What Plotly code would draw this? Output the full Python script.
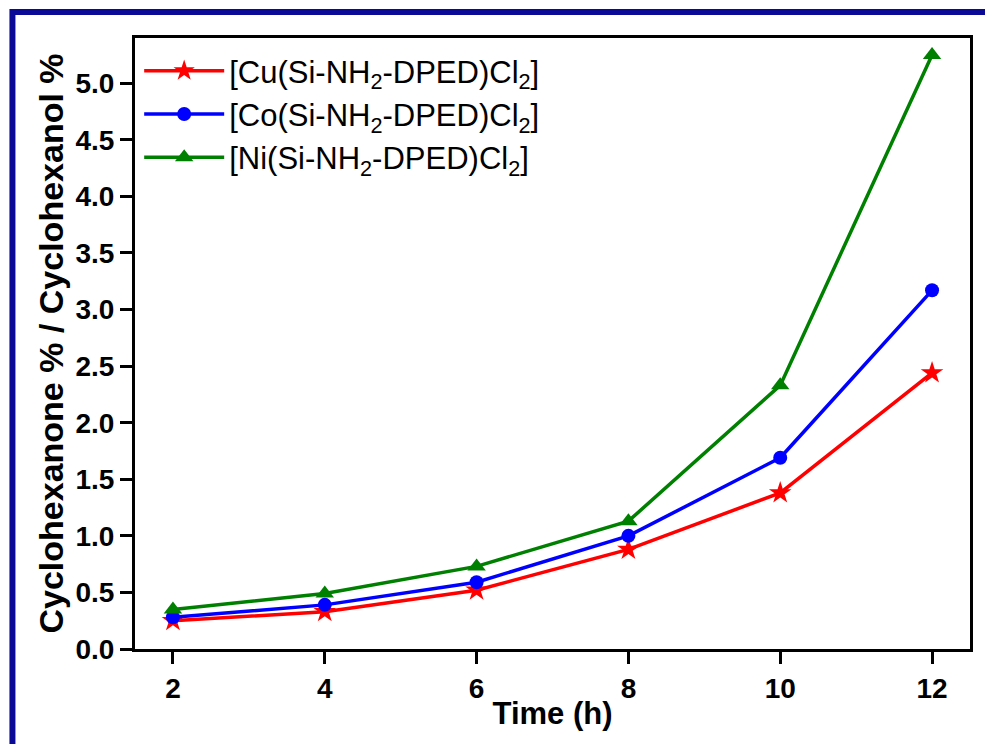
import plotly.graph_objects as go

# Reaction time (h) and product ratio for each complex
time_h = [2, 4, 6, 8, 10, 12]
cu_ratio = [0.25, 0.33, 0.52, 0.88, 1.38, 2.44]
co_ratio = [0.28, 0.39, 0.59, 1.00, 1.69, 3.17]
ni_ratio = [0.35, 0.49, 0.73, 1.13, 2.33, 5.25]

series_names = [
    "[Cu(Si-NH<sub>2</sub>-DPED)Cl<sub>2</sub>]",
    "[Co(Si-NH<sub>2</sub>-DPED)Cl<sub>2</sub>]",
    "[Ni(Si-NH<sub>2</sub>-DPED)Cl<sub>2</sub>]",
]

W, H = 985, 744
L, R, T, B = 135, 12, 38, 95
pw, ph = W - L - R, H - T - B


def px_x(p):
    return (p - L) / pw


def px_y(p):
    return (H - B - p) / ph


fig = go.Figure()

styles = [
    (cu_ratio, "#ff0000", "star", 17),
    (co_ratio, "#0000ff", "circle", 14),
    (ni_ratio, "#008000", "triangle-up", 16),
]
for name, (vals, color, sym, size) in zip(series_names, styles):
    fig.add_trace(go.Scatter(
        x=time_h, y=vals, name=name, mode="lines+markers",
        line=dict(color=color, width=3.5),
        marker=dict(symbol=sym, size=size, color=color, line=dict(width=0)),
    ))

axis_font = dict(family="Arial", size=28, color="black", weight="bold")

fig.update_xaxes(
    range=[1.5, 12.5], tickvals=time_h, ticks="outside", ticklen=12, tickwidth=3,
    tickcolor="black", showline=True, linewidth=3, linecolor="black",
    mirror=True, showgrid=False, zeroline=False, tickfont=axis_font,
    title=dict(text="Time (h)", font=dict(family="Arial", size=31,
               color="black", weight="bold"), standoff=0),
)
fig.update_yaxes(
    range=[0, 5.4], tickvals=[i * 0.5 for i in range(11)], tickformat=".1f",
    ticks="outside", ticklen=12, tickwidth=3, tickcolor="black",
    showline=True, linewidth=3, linecolor="black", mirror=True,
    showgrid=False, zeroline=False, tickfont=axis_font,
    title=dict(text="Cyclohexanone % / Cyclohexanol %",
               font=dict(family="Arial", size=34, color="black", weight="bold"),
               standoff=2),
)

# Navy frame along the top and left of the figure
fig.add_shape(
    type="rect", xref="paper", yref="paper",
    x0=px_x(12), x1=px_x(W + 20), y0=px_y(H + 20), y1=px_y(12),
    line=dict(color="#0a0a96", width=6), fillcolor="rgba(0,0,0,0)",
    layer="above",
)

fig.update_layout(
    width=W, height=H,
    margin=dict(l=L, r=R, t=T, b=B),
    paper_bgcolor="white", plot_bgcolor="white",
    showlegend=True,
    legend=dict(
        x=0.005, y=0.99, xanchor="left", yanchor="top",
        bgcolor="rgba(0,0,0,0)", borderwidth=0,
        font=dict(family="Arial", size=31, color="black"),
        itemwidth=80, tracegroupgap=0,
    ),
)

fig.write_html("out.html")
